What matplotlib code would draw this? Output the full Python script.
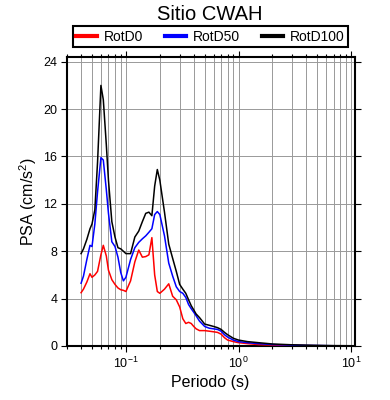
import matplotlib
matplotlib.use("Agg")
import matplotlib.pyplot as plt
from matplotlib.ticker import LogLocator, FixedLocator, NullFormatter, NullLocator

plt.rcParams['font.family'] = ['Liberation Sans', 'DejaVu Sans']
plt.rcParams['mathtext.fontset'] = 'custom'
plt.rcParams['mathtext.rm'] = 'Liberation Sans'
plt.rcParams['mathtext.it'] = 'Liberation Sans:italic'
plt.rcParams['mathtext.bf'] = 'Liberation Sans:bold'

title = "Sitio CWAH"
series_names = ["RotD0", "RotD50", "RotD100"]
series_colors = ["#ff0000", "#0000ff", "#000000"]

periods = [0.04, 0.042, 0.045, 0.048, 0.05, 0.053, 0.056, 0.06, 0.063, 0.067,
           0.07, 0.075, 0.08, 0.085, 0.09, 0.095, 0.1, 0.11, 0.12, 0.13,
           0.14, 0.15, 0.16, 0.17, 0.18, 0.19, 0.2, 0.22, 0.24, 0.26,
           0.28, 0.3, 0.32, 0.34, 0.36, 0.38, 0.4, 0.42, 0.45, 0.5,
           0.55, 0.6, 0.65, 0.7, 0.75, 0.8, 0.9, 1.0, 1.2, 1.5,
           2.0, 3.0, 4.0, 5.0, 7.0, 10.0]

rotd0 = [4.5, 4.8, 5.4, 6.1, 5.8, 6.0, 6.3, 7.7, 8.5, 7.6,
         6.4, 5.6, 5.2, 4.9, 4.75, 4.7, 4.6, 5.5, 7.1, 8.1,
         7.5, 7.55, 7.7, 9.15, 6.0, 4.6, 4.45, 4.8, 5.25, 4.2,
         3.9, 3.3, 2.3, 1.9, 2.0, 1.9, 1.65, 1.45, 1.3, 1.3,
         1.25, 1.2, 1.15, 1.0, 0.7, 0.5, 0.37, 0.28, 0.2, 0.12,
         0.08, 0.05, 0.03, 0.025, 0.015, 0.01]

rotd50 = [5.3, 5.9, 7.3, 8.5, 8.4, 10.3, 13.0, 15.9, 15.7, 13.2,
          11.2, 8.8, 8.4, 7.5, 6.2, 5.5, 5.8, 7.3, 8.3, 8.75,
          9.05, 9.3, 9.6, 9.9, 11.1, 11.35, 11.1, 9.3, 7.0, 5.9,
          5.0, 4.6, 4.45, 4.1, 3.5, 3.15, 2.85, 2.55, 2.1, 1.65,
          1.5, 1.45, 1.4, 1.25, 0.95, 0.75, 0.5, 0.37, 0.28, 0.2,
          0.12, 0.07, 0.05, 0.04, 0.02, 0.015]

rotd100 = [7.8, 8.2, 9.0, 9.9, 10.3, 11.5, 15.5, 22.0, 20.8, 17.0,
           14.0, 10.5, 9.2, 8.3, 8.2, 8.0, 7.8, 7.8, 9.2, 9.7,
           10.5, 11.2, 11.3, 11.0, 13.5, 14.9, 14.0, 11.3, 8.6, 7.4,
           6.3, 5.2, 4.8, 4.45, 3.9, 3.4, 3.05, 2.7, 2.4, 1.85,
           1.75, 1.65, 1.55, 1.4, 1.15, 0.95, 0.65, 0.5, 0.37, 0.28,
           0.17, 0.1, 0.07, 0.05, 0.03, 0.02]

y_ticks = [0, 4, 8, 12, 16, 20, 24]

fig = plt.figure(figsize=(3.9, 4.0), dpi=100)
ax = fig.add_axes([67/390, 1-346/400, 288/390, 289/400])

for name, vals, col in zip(series_names, [rotd0, rotd50, rotd100], series_colors):
    ax.plot(periods, vals, color=col, lw=1.1, label=name, zorder=3)

ax.set_xscale('log')
ax.set_xlim(0.03, 10.8)
ax.set_ylim(0, 24.4)
ax.yaxis.set_major_locator(FixedLocator(y_ticks))
ax.yaxis.set_minor_locator(NullLocator())
ax.xaxis.set_major_locator(LogLocator(base=10))
ax.xaxis.set_minor_locator(LogLocator(base=10, subs=range(2, 10)))
ax.xaxis.set_minor_formatter(NullFormatter())

ax.grid(which='major', axis='both', color='0.6', lw=0.7, zorder=0)
ax.grid(which='minor', axis='x', color='0.6', lw=0.7, zorder=0)
ax.set_axisbelow(True)

for s in ax.spines.values():
    s.set_linewidth(1.5)
ax.tick_params(which='both', direction='out', top=True, right=True,
               labelsize=9, width=0.8, pad=3)
ax.tick_params(which='major', length=4)
ax.tick_params(which='minor', length=2.5)

ax.set_xlabel("Periodo (s)", fontsize=11.5)
ax.set_ylabel("PSA (cm/s$^2$)", fontsize=11.5)
ax.xaxis.set_label_coords(0.498, -0.125)
ax.xaxis.label.set_va('center')
ax.yaxis.set_label_coords(-0.134, 0.5)
ax.yaxis.label.set_va('center')

fig.text(0.538, 1-14/400, title, fontsize=14.5, ha='center', va='center')

leg = ax.legend(loc='lower left', bbox_to_anchor=(73/390, 1-47/400, 275/390, 19/400),
                bbox_transform=fig.transFigure, mode='expand', ncol=3,
                frameon=True, fancybox=False, edgecolor='black', framealpha=1,
                borderpad=0.25, handlelength=1.5, handletextpad=0.5,
                borderaxespad=0, fontsize=10, columnspacing=0.8)
leg.get_frame().set_linewidth(1.5)
for h in leg.legend_handles:
    h.set_linewidth(3)

fig.savefig("out.png", dpi=100)
